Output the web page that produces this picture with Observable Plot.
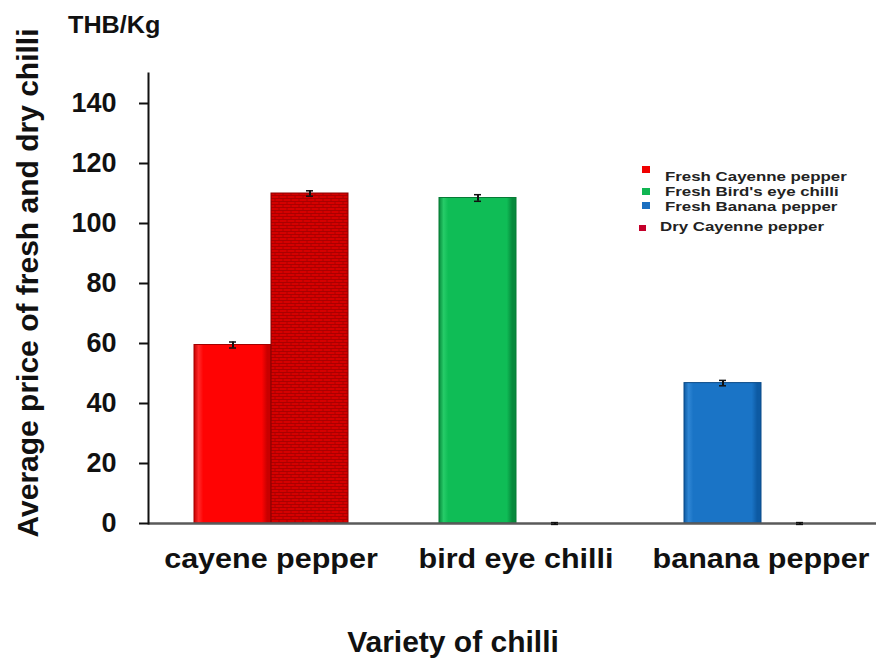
<!DOCTYPE html>
<html><head><meta charset="utf-8">
<script src="https://cdn.jsdelivr.net/npm/d3@7"></script>
<script src="https://cdn.jsdelivr.net/npm/@observablehq/plot@0.6"></script>
<style>
html,body{margin:0;padding:0;background:#fff;}
#chart{position:relative;width:876px;height:659px;overflow:hidden;}
</style></head><body><div id="chart"></div>
<script>
// ---- data ----
const varieties = ["cayene pepper", "bird eye chilli", "banana pepper"];
const freshPrice = [59.5, 108.5, 46.8];
const freshErr = [1.0, 1.1, 0.9];
const dryPrice = [110.0, 0, 0];
const dryErr = [0.9, 0.3, 0.3];
const yTicks = [0, 20, 40, 60, 80, 100, 120, 140];
const legendNames = ["Fresh Cayenne pepper", "Fresh Bird's eye chilli", "Fresh Banana pepper", "Dry Cayenne pepper"];
const yTitle = "Average price of fresh and dry chilli";
const xTitle = "Variety of chilli";
const unitLabel = "THB/Kg";

// ---- styles ----
const freshFills = ["url(#g-red)", "url(#g-green)", "url(#g-blue)"];
const freshEdges = ["#a30000", "#067a35", "#0b4a88"];
const dryFill = "url(#brick)";
const dryEdge = "#8a0000";
const legendColors = ["#f00000", "#10b552", "#1a6fc0", "#c4002a"];

const rows = varieties.flatMap((v, i) => [
  {variety: v, type: "fresh", price: freshPrice[i], err: freshErr[i], fill: freshFills[i], edge: freshEdges[i]},
  {variety: v, type: "dry", price: dryPrice[i], err: dryErr[i], fill: dryFill, edge: dryEdge}
]);

const FONT = "'Liberation Sans', Arial, Helvetica, sans-serif";

const svg = Plot.plot({
  width: 876, height: 659,
  marginTop: 73, marginBottom: 136, marginLeft: 147, marginRight: -8,
  style: {fontFamily: FONT, background: "#fff", color: "#111"},
  fx: {domain: varieties, padding: 0, label: null},
  x: {domain: ["fresh", "dry"], paddingInner: 0, paddingOuter: 0.575, axis: null},
  y: {domain: [0, 150], label: null},
  color: {type: "identity"},
  marks: [
    Plot.barY(rows, {fx: "variety", x: "type", y: "price", fill: "fill", stroke: "edge", strokeWidth: 1}),
    Plot.ruleY([0], {stroke: "#5a5a5a", strokeWidth: 2.5}),
    Plot.frame({anchor: "left", facetAnchor: "left", stroke: "#111", strokeWidth: 2}),
    Plot.ruleX(rows, {fx: "variety", x: "type", y1: d => d.price - d.err, y2: d => d.price + d.err, stroke: "#111", strokeWidth: 2}),
    Plot.tickY(rows, {fx: "variety", x: "type", y: d => d.price - d.err, insetLeft: 35, insetRight: 35, stroke: "#111", strokeWidth: 1.5}),
    Plot.tickY(rows, {fx: "variety", x: "type", y: d => d.price + d.err, insetLeft: 35, insetRight: 35, stroke: "#111", strokeWidth: 1.5}),
    Plot.axisY({ticks: yTicks, tickSize: 9, tickPadding: 23, fontSize: 27, fontWeight: "bold", label: null, strokeWidth: 2, stroke: "#111"}),
    Plot.axisFx({anchor: "bottom", tickSize: 0, tickPadding: 25, fontSize: 28, fontWeight: "bold", label: null})
  ]
});

document.getElementById("chart").appendChild(svg);
const s = d3.select(svg);

// widen the category labels slightly (the reference type is horizontally stretched)
s.selectAll('g[aria-label="fx-axis tick label"] text').each(function () {
  const t = this.getAttribute("transform");
  if (t && t.includes("translate")) this.setAttribute("transform", t + " scale(1.09,1)");
});

// ---- defs: bevel gradients and brick pattern ----
const defs = s.insert("defs", ":first-child");
function grad(id, edge, mid, hi) {
  const g = defs.append("linearGradient").attr("id", id).attr("x1", 0).attr("x2", 1).attr("y1", 0).attr("y2", 0);
  [[0, edge], [0.06, hi], [0.12, mid], [0.88, mid], [0.95, edge], [1, edge]].forEach(([o, c]) =>
    g.append("stop").attr("offset", o).attr("stop-color", c));
}
grad("g-red", "#c80000", "#ff0303", "#ff2a2a");
grad("g-green", "#078a3c", "#0fbd56", "#26cc68");
grad("g-blue", "#0d5aa3", "#1a74c6", "#2f86d4");
const pat = defs.append("pattern").attr("id", "brick").attr("patternUnits", "userSpaceOnUse")
  .attr("width", 8).attr("height", 6);
pat.append("rect").attr("width", 8).attr("height", 6).attr("fill", "#d50000");
pat.append("path").attr("d", "M0,0.5H8M0,3.5H8M2,0.5V3.5M6,3.5V6.5")
  .attr("stroke", "#a00000").attr("stroke-width", 0.8).attr("fill", "none");

// ---- titles ----
function addText(transform, str, size, anchor) {
  return s.append("text").attr("transform", transform).attr("text-anchor", anchor)
    .attr("font-family", FONT).attr("font-size", size).attr("font-weight", "bold").attr("fill", "#111").text(str);
}
addText("translate(68,33) scale(1.05,1)", unitLabel, 24, "start");
addText("translate(38,283) rotate(-90)", yTitle, 30, "middle");
addText("translate(453,652)", xTitle, 30, "middle");

// ---- legend ----
const legendRows = [
  {sx: 642, sy: 166, sw: 8, sh: 7, tx: 665, ty: 180.5},
  {sx: 642, sy: 188, sw: 8, sh: 7, tx: 665, ty: 195.5},
  {sx: 642, sy: 202, sw: 8, sh: 7, tx: 665, ty: 210.5},
  {sx: 639, sy: 225, sw: 7, sh: 6, tx: 660, ty: 230.5}
];
const lg = s.append("g").attr("aria-label", "legend");
legendRows.forEach((r, i) => {
  lg.append("rect").attr("x", r.sx).attr("y", r.sy).attr("width", r.sw).attr("height", r.sh).attr("fill", legendColors[i]);
  lg.append("text").attr("transform", `translate(${r.tx},${r.ty}) scale(1.25,1)`).attr("text-anchor", "start")
    .attr("font-family", FONT).attr("font-size", 13.5).attr("font-weight", "bold").attr("fill", "#222").text(legendNames[i]);
});
</script></body></html>
